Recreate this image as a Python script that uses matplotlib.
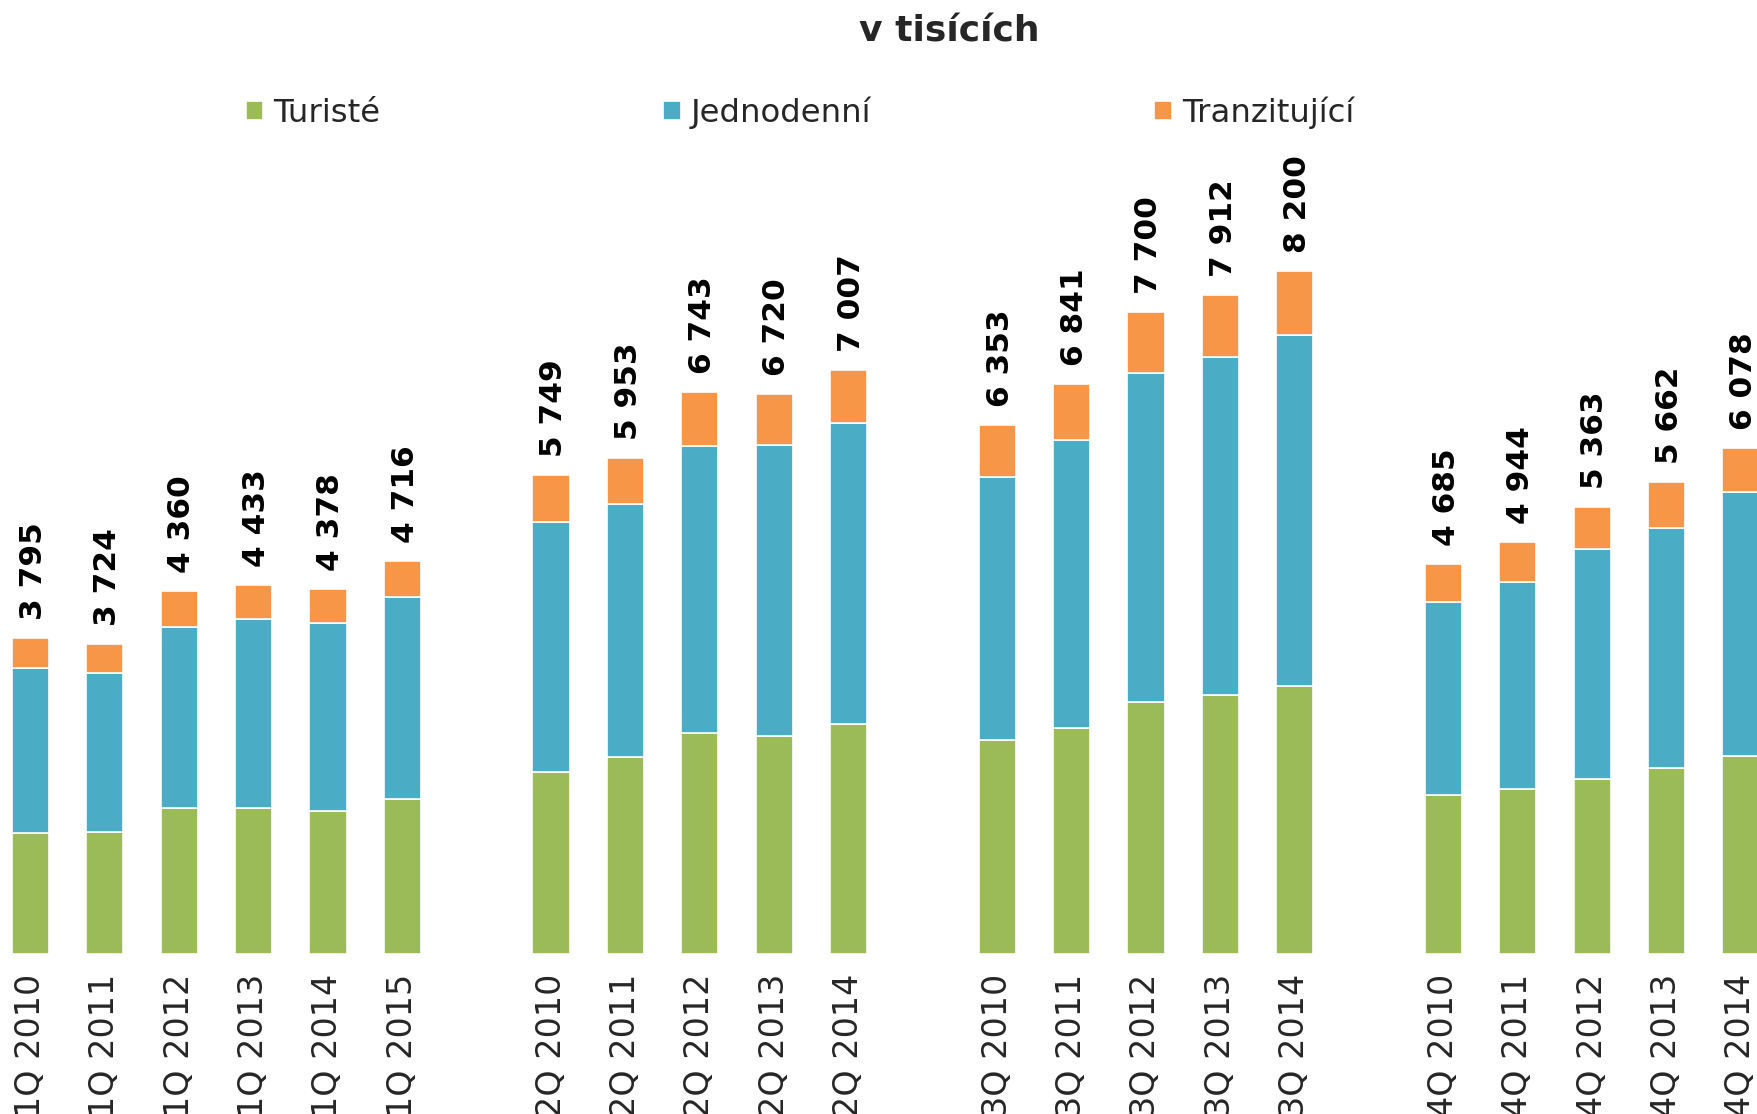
import matplotlib
matplotlib.use('Agg')
import matplotlib.pyplot as plt
import numpy as np

# kategorie (čtvrtletí) po skupinách
kategorie = ['1Q 2010', '1Q 2011', '1Q 2012', '1Q 2013', '1Q 2014', '1Q 2015',
             '2Q 2010', '2Q 2011', '2Q 2012', '2Q 2013', '2Q 2014',
             '3Q 2010', '3Q 2011', '3Q 2012', '3Q 2013', '3Q 2014',
             '4Q 2010', '4Q 2011', '4Q 2012', '4Q 2013', '4Q 2014']
skupiny = [6, 5, 5, 5]

turiste = [1450, 1470, 1750, 1750, 1720, 1860,
           2190, 2370, 2650, 2620, 2760,
           2570, 2710, 3030, 3110, 3220,
           1910, 1980, 2100, 2230, 2380]
jednodenni = [1980, 1900, 2180, 2270, 2250, 2420,
              3000, 3030, 3450, 3490, 3610,
              3150, 3460, 3940, 4050, 4210,
              2310, 2490, 2760, 2880, 3160]
celkem = [3795, 3724, 4360, 4433, 4378, 4716,
          5749, 5953, 6743, 6720, 7007,
          6353, 6841, 7700, 7912, 8200,
          4685, 4944, 5363, 5662, 6078]
tranzit = [c - t - j for c, t, j in zip(celkem, turiste, jednodenni)]

# pozice sloupců s mezerou mezi skupinami
pozice = []
x = 0
for n in skupiny:
    for i in range(n):
        pozice.append(x)
        x += 1
    x += 1
pozice = np.array(pozice)

zelena = '#9BBB59'
modra = '#4BACC6'
oranzova = '#F79646'

fig = plt.figure(figsize=(17.58, 11.14), dpi=100)
ax = fig.add_axes([0, 0.1436, 1, 0.7128])

sirka = 0.5
ax.bar(pozice, turiste, sirka, color=zelena, edgecolor='white', linewidth=1.2, label='Turisté')
ax.bar(pozice, jednodenni, sirka, bottom=turiste, color=modra, edgecolor='white', linewidth=1.2, label='Jednodenní')
spodek = [t + j for t, j in zip(turiste, jednodenni)]
ax.bar(pozice, tranzit, sirka, bottom=spodek, color=oranzova, edgecolor='white', linewidth=1.2, label='Tranzitující')

# popisky součtů
for p, c in zip(pozice, celkem):
    ax.annotate(f'{c:,}'.replace(',', ' '), (p, c), xytext=(2, 13), textcoords='offset points',
                rotation=90, ha='center', va='bottom', fontsize=22.5, fontweight='bold', color='black')

ax.set_xlim(-0.41, 23.23)
ax.set_ylim(0, 9530)
ax.set_xticks(pozice)
ax.set_xticklabels(kategorie, rotation=90, fontsize=24, color='#262626', va='top')
ax.tick_params(axis='x', length=0, pad=14)
ax.set_yticks([])
for s in ax.spines.values():
    s.set_visible(False)

fig.text(0.54, 0.972, 'v tisících', ha='center', va='center', fontsize=26,
         fontweight='bold', color='#262626')

fig.legend(loc='center', bbox_to_anchor=(0.455, 0.899), ncol=3, frameon=False,
           fontsize=23.3, columnspacing=8.75, handlelength=0.55, handleheight=0.55,
           handletextpad=0.3, labelcolor='#262626')

fig.savefig('out.png', dpi=100)
